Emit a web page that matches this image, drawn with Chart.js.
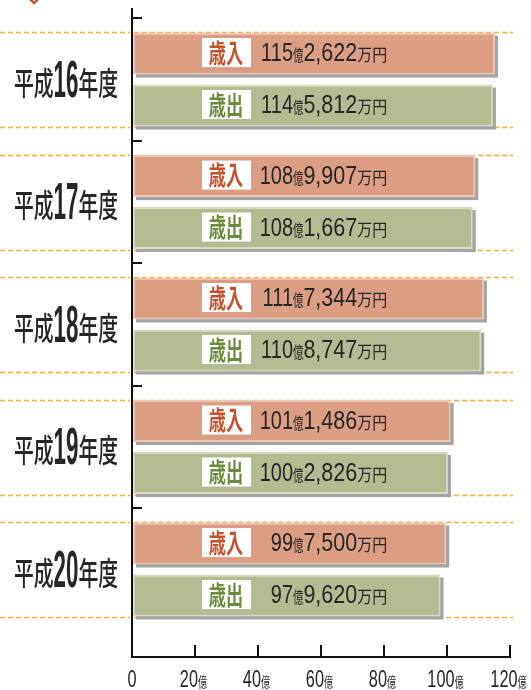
<!DOCTYPE html>
<html>
<head>
<meta charset="utf-8">
<script src="https://cdn.jsdelivr.net/npm/chart.js@4/dist/chart.umd.min.js"></script>
<style>
  body { margin: 0; background: #fff; }
  #wrap { width: 531px; height: 690px; position: relative; }
</style>
</head>
<body>
<div id="wrap"><canvas id="budgetChart"></canvas></div>
<script>
// 平成16〜20年度 歳入・歳出 (単位: 万円)
const years = ['16', '17', '18', '19', '20'];
const seriesNames = ['歳入', '歳出'];
const revenue = [1152622, 1089907, 1117344, 1011486, 997500];
const expenditure = [1145812, 1081667, 1108747, 1002826, 979620];
const xTicks = [0, 20, 40, 60, 80, 100, 120];

const JP = '"Noto Sans CJK JP"';
const NUM = '"Liberation Sans"';

// draws a run of text pieces, each with its own font and horizontal squeeze
function drawParts(ctx, parts, x, y, align) {
    let total = 0;
    const widths = parts.map(p => {
        ctx.font = p.font;
        const w = ctx.measureText(p.t).width * p.sx;
        total += w;
        return w;
    });
    let cx = align === 'right' ? x - total : align === 'center' ? x - total / 2 : x;
    parts.forEach((p, i) => {
        ctx.save();
        ctx.font = p.font;
        ctx.fillStyle = p.color || '#262626';
        ctx.textBaseline = 'alphabetic';
        ctx.translate(cx, y + (p.dy || 0));
        ctx.scale(p.sx, 1);
        ctx.fillText(p.t, 0, 0);
        ctx.restore();
        cx += widths[i];
    });
}

const deco = {
    id: 'deco',
    beforeDatasetsDraw(chart) {
        const ctx = chart.ctx;
        const area = chart.chartArea;
        const yScale = chart.scales.y;
        ctx.save();
        // orange dashed band lines
        ctx.strokeStyle = '#f5aa4e';
        ctx.lineWidth = 1.5;
        ctx.setLineDash([5, 3]);
        years.forEach((_, i) => {
            [-0.388, 0.388].forEach(d => {
                const py = Math.round(yScale.getPixelForValue(i + d)) + 0.5;
                ctx.beginPath();
                ctx.moveTo(0, py);
                ctx.lineTo(area.left - 2, py);
                ctx.moveTo(area.left + 2, py);
                ctx.lineTo(area.right + 3, py);
                ctx.stroke();
            });
        });
        ctx.setLineDash([]);
        // grey drop shadow under each bar
        ctx.fillStyle = '#a4a4a4';
        chart.data.datasets.forEach((ds, di) => {
            chart.getDatasetMeta(di).data.forEach(bar => {
                const p = bar.getProps(['x', 'y', 'base', 'height'], true);
                ctx.fillRect(p.base + 3, p.y - p.height / 2 + 3, p.x - p.base, p.height);
            });
        });
        ctx.restore();
    },
    afterDatasetsDraw(chart) {
        const ctx = chart.ctx;
        const area = chart.chartArea;
        const labelColors = ['#c4522c', '#6b8a3a'];
        chart.data.datasets.forEach((ds, di) => {
            const raw = di === 0 ? revenue : expenditure;
            chart.getDatasetMeta(di).data.forEach((bar, i) => {
                const p = bar.getProps(['y'], true);
                // white label box
                ctx.fillStyle = '#fff';
                ctx.fillRect(area.left + 70, p.y - 15.5, 49, 29);
                drawParts(ctx, [
                    { t: ds.label, font: 'bold 26px ' + JP, sx: 0.66, color: labelColors[di] }
                ], area.left + 94, p.y + 9, 'center');
                // value text: 115億2,622万円
                const oku = Math.floor(raw[i] / 10000);
                const man = (raw[i] % 10000).toLocaleString('en-US');
                const xo = area.left + 161;
                drawParts(ctx, [
                    { t: String(oku), font: '25px ' + NUM, sx: 0.8 }
                ], xo, p.y + 7.5, 'right');
                drawParts(ctx, [
                    { t: '億', font: '16px ' + JP, sx: 0.65 },
                    { t: man, font: '25px ' + NUM, sx: 0.86 },
                    { t: '万円', font: '17px ' + JP, sx: 0.88 }
                ], xo, p.y + 7.5, 'left');
            });
        });
    },
    afterDraw(chart) {
        const ctx = chart.ctx;
        const area = chart.chartArea;
        const yScale = chart.scales.y;
        const xScale = chart.scales.x;
        // year labels on the left
        years.forEach((yr, i) => {
            const py = yScale.getPixelForValue(i);
            drawParts(ctx, [
                { t: '平成', font: '500 32px ' + JP, sx: 0.62, dy: -2 },
                { t: yr, font: 'bold 52px ' + NUM, sx: 0.43 },
                { t: '年度', font: '500 32px ' + JP, sx: 0.62, dy: -2 }
            ], 66, py + 17, 'center');
        });
        // x axis labels
        xTicks.forEach(v => {
            const px = xScale.getPixelForValue(v);
            const parts = [{ t: String(v), font: '24px ' + NUM, sx: 0.68 }];
            if (v > 0) parts.push({ t: '億', font: '14px ' + JP, sx: 0.65 });
            drawParts(ctx, parts, v > 0 ? px - 1.5 : px, area.bottom + 30, 'center');
        });
        // little diamond mark cut off at the top
        ctx.save();
        ctx.translate(34, -4);
        ctx.rotate(Math.PI / 4);
        ctx.fillStyle = '#fff';
        ctx.strokeStyle = '#b5562e';
        ctx.lineWidth = 2.5;
        ctx.fillRect(-5, -5, 10, 10);
        ctx.strokeRect(-5, -5, 10, 10);
        ctx.restore();
    }
};

const budgetChart = document.getElementById('budgetChart');

new Chart(budgetChart, {
    type: 'bar',
    data: {
        datasets: [
            {
                label: seriesNames[0],
                data: revenue.map((v, i) => ({ x: v / 10000, y: i })),
                backgroundColor: '#dc9e82',
                borderColor: '#ecc6b4',
                borderWidth: 2,
                borderSkipped: false,
                categoryPercentage: 0.849,
                barPercentage: 0.808
            },
            {
                label: seriesNames[1],
                data: expenditure.map((v, i) => ({ x: v / 10000, y: i })),
                backgroundColor: '#b3bc90',
                borderColor: '#d5dac0',
                borderWidth: 2,
                borderSkipped: false,
                categoryPercentage: 0.849,
                barPercentage: 0.808
            }
        ]
    },
    options: {
        indexAxis: 'y',
        responsive: true,
        maintainAspectRatio: false,
        animation: false,
        layout: { padding: { top: 9, right: 21, left: 0, bottom: 0 } },
        plugins: {
            legend: { display: false },
            tooltip: { enabled: false }
        },
        scales: {
            x: {
                type: 'linear',
                position: 'bottom',
                min: 0,
                max: 120,
                afterBuildTicks: s => { s.ticks = xTicks.map(v => ({ value: v })); },
                afterFit: s => { s.height = 33; },
                ticks: { display: false },
                grid: { drawOnChartArea: false, tickLength: -12, color: '#111', lineWidth: 2 },
                border: { color: '#111', width: 2 }
            },
            y: {
                type: 'linear',
                reverse: true,
                offset: false,
                min: -0.576,
                max: 4.714,
                afterBuildTicks: s => { s.ticks = years.map((_, i) => ({ value: i - 0.5 })); },
                afterFit: s => { s.width = 132; },
                ticks: { display: false },
                grid: { offset: false, drawOnChartArea: false, tickLength: -10, color: '#111', lineWidth: 2 },
                border: { color: '#111', width: 2 }
            }
        }
    },
    plugins: [deco]
});
</script>
</body>
</html>
